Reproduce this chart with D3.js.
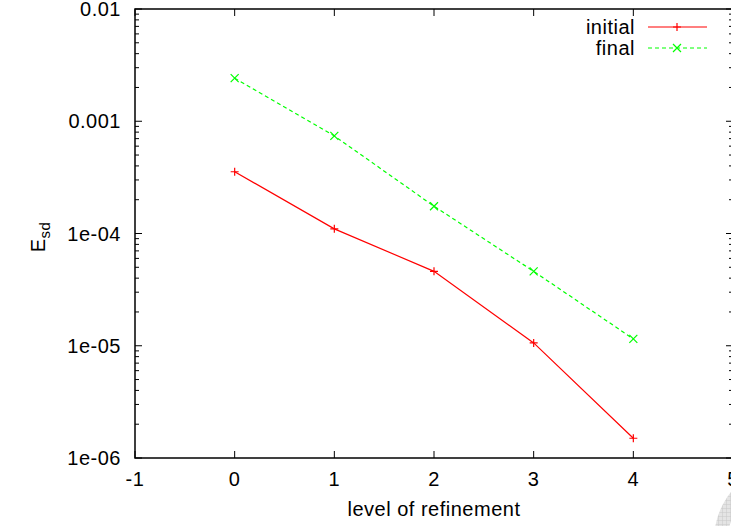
<!DOCTYPE html>
<html>
<head>
<meta charset="utf-8">
<script src="https://cdn.jsdelivr.net/npm/d3@7"></script>
<style>
body { margin: 0; background: #fff; }
svg { display: block; font-family: "Liberation Sans", Arial, sans-serif; }
text { letter-spacing: 0.5px; }
</style>
</head>
<body>
<div id="chart"></div>
<script>
var levels = [0, 1, 2, 3, 4];
var initialErr = [3.55e-4, 1.1e-4, 4.6e-5, 1.06e-5, 1.5e-6];
var finalErr = [2.42e-3, 7.4e-4, 1.75e-4, 4.6e-5, 1.15e-5];
var xTicks = [-1, 0, 1, 2, 3, 4, 5];
var yTicks = [1e-6, 1e-5, 1e-4, 1e-3, 1e-2];
var yTickLabels = ["1e-06", "1e-05", "1e-04", "0.001", "0.01"];

var svg = d3.select("#chart").append("svg")
    .attr("width", 731).attr("height", 526),
    margin = {top: 9, right: -2, bottom: 68, left: 135},
    width = 731 - margin.left - margin.right,
    height = 526 - margin.top - margin.bottom,
    g = svg.append("g").attr("transform", "translate(" + margin.left + "," + margin.top + ")");

var xScale = d3.scaleLinear().domain([-1, 5]).range([0, width]),
    yScale = d3.scaleLog().domain([1e-6, 1e-2]).range([height, 0]);

// watermark arc in the corner
var defs = svg.append("defs");
var pat = defs.append("pattern").attr("id", "grid")
    .attr("width", 4).attr("height", 4).attr("patternUnits", "userSpaceOnUse");
pat.append("rect").attr("width", 4).attr("height", 4).attr("fill", "#e4e4e4");
pat.append("path").attr("d", "M0,0H4M0,0V4").attr("stroke", "#c8c8c8").attr("stroke-width", 1);
svg.append("path")
    .attr("transform", "translate(790,540)")
    .attr("d", d3.arc().innerRadius(62).outerRadius(76).startAngle(-Math.PI).endAngle(0)())
    .attr("fill", "url(#grid)");

// minor + major ticks on y, both sides
var minor = [];
for (var e = -6; e < -2; e++) {
  for (var m = 2; m < 10; m++) minor.push(m * Math.pow(10, e));
}
var tickStroke = "#000";
minor.forEach(function(v) {
  g.append("line").attr("x1", 0).attr("x2", 4).attr("y1", yScale(v)).attr("y2", yScale(v))
    .attr("stroke", tickStroke).attr("stroke-width", 1);
  g.append("line").attr("x1", width).attr("x2", width - 4).attr("y1", yScale(v)).attr("y2", yScale(v))
    .attr("stroke", tickStroke).attr("stroke-width", 1);
});
yTicks.forEach(function(v, i) {
  g.append("line").attr("x1", 0).attr("x2", 7).attr("y1", yScale(v)).attr("y2", yScale(v))
    .attr("stroke", tickStroke).attr("stroke-width", 1);
  g.append("line").attr("x1", width).attr("x2", width - 7).attr("y1", yScale(v)).attr("y2", yScale(v))
    .attr("stroke", tickStroke).attr("stroke-width", 1);
  g.append("text").attr("x", -14).attr("y", yScale(v)).attr("dy", "0.35em")
    .attr("text-anchor", "end").style("font-size", "20px").attr("fill", "#000")
    .text(yTickLabels[i]);
});
xTicks.forEach(function(v) {
  g.append("line").attr("x1", xScale(v)).attr("x2", xScale(v)).attr("y1", height).attr("y2", height - 7)
    .attr("stroke", tickStroke).attr("stroke-width", 1);
  g.append("line").attr("x1", xScale(v)).attr("x2", xScale(v)).attr("y1", 0).attr("y2", 7)
    .attr("stroke", tickStroke).attr("stroke-width", 1);
  g.append("text").attr("x", xScale(v)).attr("y", height + 28)
    .attr("text-anchor", "middle").style("font-size", "20px").attr("fill", "#000")
    .text(v);
});

// border
g.append("rect").attr("x", 0).attr("y", 0).attr("width", width).attr("height", height)
  .attr("fill", "none").attr("stroke", "#000").attr("stroke-width", 1.5);

var line = d3.line()
    .x(function(d) { return xScale(d[0]); })
    .y(function(d) { return yScale(d[1]); });

function plus(sel, x, y, c) {
  sel.append("path").attr("d", "M" + (x - 4) + "," + y + "H" + (x + 4) + "M" + x + "," + (y - 4) + "V" + (y + 4))
    .attr("stroke", c).attr("stroke-width", 1.2).attr("fill", "none");
}
function cross(sel, x, y, c) {
  sel.append("path").attr("d", "M" + (x - 4) + "," + (y - 4) + "L" + (x + 4) + "," + (y + 4) +
      "M" + (x - 4) + "," + (y + 4) + "L" + (x + 4) + "," + (y - 4))
    .attr("stroke", c).attr("stroke-width", 1.2).attr("fill", "none");
}

var series = [
  {id: "initial", values: initialErr, color: "#ff0000", dash: null, mark: plus},
  {id: "final", values: finalErr, color: "#00ff00", dash: "4,3", mark: cross}
];

series.forEach(function(s, k) {
  var pts = levels.map(function(l, i) { return [l, s.values[i]]; });
  g.append("path").attr("d", line(pts)).attr("fill", "none")
    .attr("stroke", s.color).attr("stroke-width", 1.2)
    .attr("stroke-dasharray", s.dash);
  pts.forEach(function(p) { s.mark(g, xScale(p[0]), yScale(p[1]), s.color); });

  // legend
  var ly = 27 + k * 21;
  svg.append("text").attr("x", 635).attr("y", ly).attr("dy", "0.35em")
    .attr("text-anchor", "end").style("font-size", "20px").attr("fill", "#000").text(s.id);
  svg.append("line").attr("x1", 648).attr("x2", 707).attr("y1", ly).attr("y2", ly)
    .attr("stroke", s.color).attr("stroke-width", 1.2).attr("stroke-dasharray", s.dash);
  s.mark(svg, 677, ly, s.color);
});

// axis titles
svg.append("text").attr("x", 434).attr("y", 516).attr("text-anchor", "middle")
  .style("font-size", "20px").attr("fill", "#000").text("level of refinement");
var yt = svg.append("text").attr("transform", "translate(45,237) rotate(-90)")
  .attr("text-anchor", "middle").style("font-size", "20px").attr("fill", "#000");
yt.append("tspan").text("E");
yt.append("tspan").attr("dy", 5).style("font-size", "15px").text("sd");
</script>
</body>
</html>
